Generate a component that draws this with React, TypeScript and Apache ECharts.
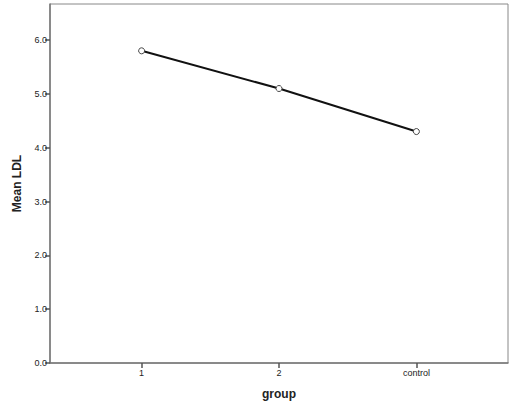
import React, { useEffect, useRef } from "react";
import * as echarts from "echarts";

const categories = ["1", "2", "control"];
const meanLDL = [5.8, 5.1, 4.3];
const yTicks = [0, 1, 2, 3, 4, 5, 6];

export default function App() {
  const ref = useRef<HTMLDivElement>(null);
  useEffect(() => {
    if (!ref.current) return;
    const chart = echarts.init(ref.current, null, { renderer: "svg" });
    const font = "Liberation Sans, Arial, sans-serif";
    chart.setOption({
      animation: false,
      backgroundColor: "#ffffff",
      grid: {
        left: 50,
        right: 7,
        top: 4,
        bottom: 50,
        show: true,
        borderColor: "#888888",
        borderWidth: 1,
        backgroundColor: "transparent",
      },
      xAxis: {
        type: "value",
        min: -2 / 3,
        max: categories.length - 1 + 2 / 3,
        name: "group",
        nameLocation: "middle",
        nameGap: 25,
        nameTextStyle: { fontFamily: font, fontSize: 12, fontWeight: "bold", color: "#222" },
        axisLine: { show: true, onZero: false, lineStyle: { color: "#777", width: 1.5 } },
        axisTick: {
          show: true,
          length: 5,
          inside: false,
          customValues: categories.map((_, i) => i),
          lineStyle: { color: "#555", width: 1.5 },
        },
        axisLabel: {
          customValues: categories.map((_, i) => i),
          formatter: (v: number) => categories[Math.round(v)] ?? "",
          fontFamily: font,
          fontSize: 9,
          color: "#222",
          margin: 5,
        },
        splitLine: { show: false },
      },
      yAxis: {
        type: "value",
        min: 0,
        max: 6.67,
        name: "Mean LDL",
        nameLocation: "middle",
        nameGap: 27,
        nameTextStyle: { fontFamily: font, fontSize: 12, fontWeight: "bold", color: "#222" },
        axisLine: { show: true, onZero: false, lineStyle: { color: "#777", width: 1.5 } },
        axisTick: {
          show: true,
          length: 5,
          customValues: yTicks,
          lineStyle: { color: "#555", width: 1.5 },
        },
        axisLabel: {
          customValues: yTicks,
          formatter: (v: number) => v.toFixed(1),
          fontFamily: font,
          fontSize: 9,
          color: "#222",
          margin: 3,
        },
        splitLine: { show: false },
      },
      series: [
        {
          type: "line",
          data: meanLDL.map((v, i) => [i, v]),
          symbol: "circle",
          symbolSize: 6,
          lineStyle: { color: "#111", width: 2 },
          itemStyle: { color: "#fff", borderColor: "#444", borderWidth: 1 },
        },
      ],
    });
    return () => chart.dispose();
  }, []);
  return (
    <div
      ref={ref}
      style={{ position: "fixed", left: 0, top: 0, width: 515, height: 413 }}
    />
  );
}
